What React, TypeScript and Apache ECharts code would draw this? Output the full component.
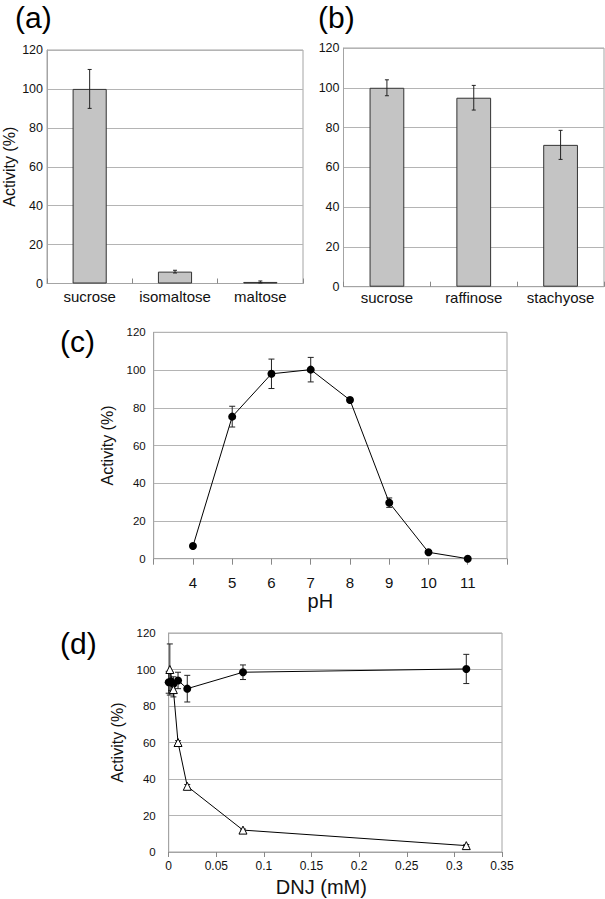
import React, { useEffect, useRef } from 'react';
import * as echarts from 'echarts';

const FONT = '"Liberation Sans", Arial, Helvetica, sans-serif';

// Panel (a)
const catsA = ['sucrose', 'isomaltose', 'maltose'];
const valsA = [100, 6.1, 0.8];
const errsA = [10, 0.7, 0.5];

// Panel (b)
const catsB = ['sucrose', 'raffinose', 'stachyose'];
const valsB = [100, 95, 71.3];
const errsB = [4, 6.2, 7.3];

// Panel (c)
const phX = [4, 5, 6, 7, 8, 9, 10, 11];
const phY = [6.7, 75.3, 98, 100.2, 84.1, 29.7, 3.4, 0];
const phErr = [1, 5.5, 7.8, 6.5, 1.2, 2.5, 0.8, 0.4];

// Panel (d)
const dnjCircleX = [0, 0.0024, 0.0049, 0.0098, 0.0195, 0.078, 0.3125];
const dnjCircleY = [93, 93.5, 92, 94, 89.5, 98.5, 100.3];
const dnjCircleErr = [6, 5, 4, 4.5, 7.3, 4, 8];
const dnjTriX = [0.0012, 0.0049, 0.0098, 0.0195, 0.078, 0.3125];
const dnjTriY = [100, 89, 60, 36, 12, 3.5];
const dnjTriErr = [14, 4, 1, 1, 0.6, 0.6];

const yTickMin = 0;
const yTickMax = 120;
const yTickStep = 20;

const GRID_BORDER = '#a4a4a4';
const GRID_LINE = '#b4b4b4';
const TEXT = '#111';

function errRenderer(cap: number) {
  return (params: any, api: any) => {
    const x = api.value(0);
    const v = api.value(1);
    const e = api.value(2);
    const top = api.coord([x, v + e]);
    const bot = api.coord([x, v - e]);
    const style = { stroke: '#222', lineWidth: 1 };
    return {
      type: 'group',
      children: [
        { type: 'line', shape: { x1: top[0], y1: top[1], x2: bot[0], y2: bot[1] }, style },
        { type: 'line', shape: { x1: top[0] - cap, y1: top[1], x2: top[0] + cap, y2: top[1] }, style },
        { type: 'line', shape: { x1: bot[0] - cap, y1: bot[1], x2: bot[0] + cap, y2: bot[1] }, style },
      ],
    };
  };
}

function yAxisBase(gridIndex: number, fontSize: number, margin: number, name?: string, nameGap?: number) {
  return {
    type: 'value',
    gridIndex,
    min: yTickMin,
    max: yTickMax,
    interval: yTickStep,
    axisLine: { show: true, lineStyle: { color: GRID_BORDER, width: 1 } },
    axisTick: { show: false },
    axisLabel: { fontSize, color: TEXT, fontFamily: FONT, margin },
    splitLine: { show: true, lineStyle: { color: GRID_LINE, width: 1 } },
    name: name || '',
    nameLocation: 'middle',
    nameRotate: 90,
    nameGap: nameGap || 0,
    nameTextStyle: { fontSize: 16, color: TEXT, fontFamily: FONT },
  };
}

function catXAxis(gridIndex: number, cats: string[], margin: number) {
  return {
    type: 'category',
    gridIndex,
    data: cats,
    axisLine: { show: true, lineStyle: { color: GRID_BORDER, width: 1 } },
    axisTick: { show: true, inside: true, length: 5, lineStyle: { color: '#888' } },
    axisLabel: { fontSize: 15, color: TEXT, fontFamily: FONT, margin, interval: 0, hideOverlap: false },
    splitLine: { show: false },
  };
}

function panelLabel(text: string, x: number, y: number) {
  return {
    type: 'text',
    x,
    y,
    style: { text, fontSize: 30, fontFamily: FONT, fill: '#000', textVerticalAlign: 'top', textAlign: 'left' },
  };
}

export default function App() {
  const ref = useRef<HTMLDivElement>(null);

  useEffect(() => {
    if (!ref.current) return;
    const chart = echarts.init(ref.current, undefined, { renderer: 'svg' });

    const gridBase = { show: true, borderColor: GRID_BORDER, borderWidth: 1, containLabel: false };

    const option: any = {
      animation: false,
      backgroundColor: '#fff',
      textStyle: { fontFamily: FONT },
      grid: [
        { ...gridBase, left: 43.5, top: 50, width: 259.5, height: 233.5 },
        { ...gridBase, left: 343.5, top: 48, width: 260.5, height: 238.7 },
        { ...gridBase, left: 153.7, top: 332.3, width: 353.3, height: 226.4 },
        { ...gridBase, left: 168.7, top: 633, width: 333.3, height: 219 },
      ],
      xAxis: [
        catXAxis(0, catsA, 5),
        catXAxis(1, catsB, 3),
        {
          type: 'value',
          gridIndex: 2,
          min: 3,
          max: 12,
          interval: 1,
          axisLine: { show: true, lineStyle: { color: GRID_BORDER, width: 1 } },
          axisTick: { show: true, inside: false, length: 6, lineStyle: { color: '#888' } },
          axisLabel: {
            fontSize: 15,
            color: TEXT,
            fontFamily: FONT,
            margin: 16,
            formatter: (v: number) => (v === 3 || v === 12 ? '' : String(v)),
          },
          splitLine: { show: false },
          name: 'pH',
          nameLocation: 'middle',
          nameGap: 31,
          nameTextStyle: { fontSize: 20, color: TEXT, fontFamily: FONT, padding: [0, 20, 0, 0] },
        },
        {
          type: 'value',
          gridIndex: 3,
          min: 0,
          max: 0.35,
          interval: 0.05,
          axisLine: { show: true, lineStyle: { color: GRID_BORDER, width: 1 } },
          axisTick: { show: true, inside: false, length: 5, lineStyle: { color: '#888' } },
          axisLabel: { fontSize: 12, color: TEXT, fontFamily: FONT, margin: 8 },
          splitLine: { show: false },
          name: 'DNJ (mM)',
          nameLocation: 'middle',
          nameGap: 25,
          nameTextStyle: { fontSize: 20, color: TEXT, fontFamily: FONT, padding: [0, 28, 0, 0] },
        },
      ],
      yAxis: [
        yAxisBase(0, 12.5, 4, 'Activity (%)', 30),
        yAxisBase(1, 12.5, 4),
        yAxisBase(2, 11.5, 8, 'Activity (%)', 30.5),
        yAxisBase(3, 11.5, 13, 'Activity (%)', 37.5),
      ],
      graphic: [
        panelLabel('(a)', 15, 2),
        panelLabel('(b)', 318, 2),
        panelLabel('(c)', 60, 326),
        panelLabel('(d)', 60, 628),
      ],
      series: [
        {
          type: 'bar',
          xAxisIndex: 0,
          yAxisIndex: 0,
          data: valsA,
          barWidth: '40%',
          itemStyle: { color: '#c4c4c4', borderColor: '#333', borderWidth: 1 },
        },
        {
          type: 'custom',
          xAxisIndex: 0,
          yAxisIndex: 0,
          renderItem: errRenderer(2),
          data: valsA.map((v, i) => [i, v, errsA[i]]),
          z: 5,
        },
        {
          type: 'bar',
          xAxisIndex: 1,
          yAxisIndex: 1,
          data: valsB,
          barWidth: '40%',
          itemStyle: { color: '#c4c4c4', borderColor: '#333', borderWidth: 1 },
        },
        {
          type: 'custom',
          xAxisIndex: 1,
          yAxisIndex: 1,
          renderItem: errRenderer(2),
          data: valsB.map((v, i) => [i, v, errsB[i]]),
          z: 5,
        },
        {
          type: 'custom',
          xAxisIndex: 2,
          yAxisIndex: 2,
          renderItem: errRenderer(3),
          data: phX.map((x, i) => [x, phY[i], phErr[i]]),
          z: 1,
        },
        {
          type: 'line',
          xAxisIndex: 2,
          yAxisIndex: 2,
          data: phX.map((x, i) => [x, phY[i]]),
          symbol: 'circle',
          symbolSize: 8,
          itemStyle: { color: '#000' },
          lineStyle: { color: '#000', width: 1 },
          z: 3,
        },
        {
          type: 'custom',
          xAxisIndex: 3,
          yAxisIndex: 3,
          renderItem: errRenderer(3),
          data: dnjCircleX.map((x, i) => [x, dnjCircleY[i], dnjCircleErr[i]]),
          z: 1,
        },
        {
          type: 'custom',
          xAxisIndex: 3,
          yAxisIndex: 3,
          renderItem: errRenderer(3),
          data: dnjTriX.map((x, i) => [x, dnjTriY[i], dnjTriErr[i]]),
          z: 1,
        },
        {
          type: 'line',
          xAxisIndex: 3,
          yAxisIndex: 3,
          data: dnjCircleX.map((x, i) => [x, dnjCircleY[i]]),
          symbol: 'circle',
          symbolSize: 8,
          itemStyle: { color: '#000' },
          lineStyle: { color: '#000', width: 1 },
          z: 3,
        },
        {
          type: 'line',
          xAxisIndex: 3,
          yAxisIndex: 3,
          data: dnjTriX.map((x, i) => [x, dnjTriY[i]]),
          symbol: 'triangle',
          symbolSize: 8,
          itemStyle: { color: '#fff', borderColor: '#000', borderWidth: 1 },
          lineStyle: { color: '#000', width: 1 },
          z: 3,
        },
      ],
    };

    chart.setOption(option);
    return () => {
      chart.dispose();
    };
  }, []);

  return (
    <div
      ref={ref}
      style={{ position: 'absolute', left: 0, top: 0, width: 605, height: 899, background: '#fff' }}
    />
  );
}
